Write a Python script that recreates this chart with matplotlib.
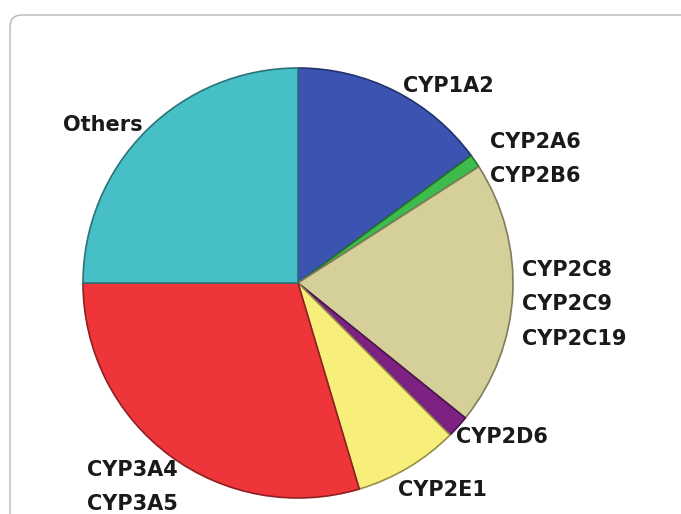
import matplotlib.pyplot as plt
from matplotlib.patches import FancyBboxPatch
from matplotlib.colors import to_rgb

# shares of drug metabolism (percent), clockwise from the top
enzimas = ['CYP1A2', 'CYP2A6\nCYP2B6', 'CYP2C8\nCYP2C9\nCYP2C19', 'CYP2D6',
           'CYP2E1', 'CYP3A4\nCYP3A5', 'Others']
porcentajes = [14.9, 1.0, 19.9, 1.7, 7.9, 29.6, 25.0]
colores = ['#3b54b2', '#3dbb4c', '#d5cf99', '#7d2282', '#f7ef7a', '#ee3539', '#46bfc7']


def oscurece(color, f=0.6):
    r, g, b = to_rgb(color)
    return (r * f, g * f, b * f)


fig = plt.figure(figsize=(6.81, 5.14), dpi=100)
ax = fig.add_axes([0, 0, 1, 1])

# frame with rounded corner, cut by the picture edge
marco = FancyBboxPatch((10, -40), 720, 539,
                       boxstyle='round,pad=0,rounding_size=12',
                       fc='white', ec='#b5b5b5', lw=1.0)
ax.add_patch(marco)

cuñas, _ = ax.pie(porcentajes, colors=colores, startangle=90, counterclock=False,
                  center=(298, 514 - 283), radius=215, frame=True,
                  wedgeprops=dict(linewidth=1.2))
for cuña, c in zip(cuñas, colores):
    cuña.set_edgecolor(oscurece(c))
ax.set_xlim(0, 681)
ax.set_ylim(0, 514)
ax.set_aspect('auto')
ax.axis('off')

# label positions in pixels (left x, top y)
posiciones = [(403, 76), (490, 132), (522, 260), (456, 427), (398, 480), (87, 460), (63, 115)]
for texto, (px, py) in zip(enzimas, posiciones):
    ax.text(px, 514 - py, texto, ha='left', va='top', fontsize=15,
            fontweight='bold', color='#1a1a1a', linespacing=1.9)

fig.savefig('out.png', dpi=100)
